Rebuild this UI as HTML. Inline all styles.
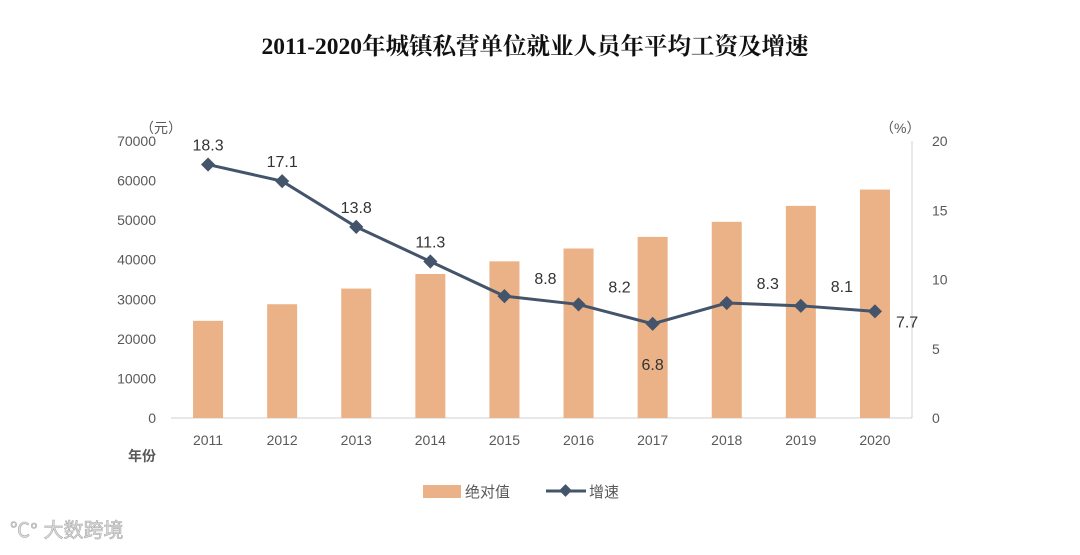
<!DOCTYPE html>
<html><head><meta charset="utf-8"><style>
body{margin:0;background:#fff;width:1080px;height:550px;overflow:hidden;font-family:"Liberation Sans","Noto Sans CJK SC",sans-serif}
</style></head><body>
<svg width="1080" height="550" xmlns="http://www.w3.org/2000/svg">
<text x="535" y="54" text-anchor="middle" font-family="'Liberation Serif','Noto Serif CJK SC',serif" font-weight="bold" font-size="23.5" fill="#111">2011-2020年城镇私营单位就业人员年平均工资及增速</text>
<g id="g" font-size="14" fill="#595959"></g>
</svg>
<script>
const years=['2011','2012','2013','2014','2015','2016','2017','2018','2019','2020'];
const wages=[24556,28752,32706,36390,39589,42833,45761,49575,53604,57727];
const growth=[18.3,17.1,13.8,11.3,8.8,8.2,6.8,8.3,8.1,7.7];
const leftTicks=[0,10000,20000,30000,40000,50000,60000,70000];
const rightTicks=[0,5,10,15,20];
const NS='http://www.w3.org/2000/svg';
const g=document.getElementById('g');
const x0=171,x1=912,yb=418,yt=141;
const step=(x1-x0)/years.length;
const xc=i=>x0+step*(i+0.5);
const yL=v=>yb-(v/70000)*(yb-yt);
const yR=v=>yb-(v/20)*(yb-yt);
function el(t,a,txt){const e=document.createElementNS(NS,t);for(const k in a)e.setAttribute(k,a[k]);if(txt!==undefined)e.textContent=txt;g.appendChild(e);return e;}
let e;
e=el('line',{x1:x0,x2:x1,y1:yb,y2:yb,stroke:'#d0d0d0'});

e=el('line',{x1:x1,x2:x1,y1:yt,y2:yb,stroke:'#d0d0d0'});

leftTicks.forEach(v=>{e=el('text',{x:156,y:yL(v)+5,'text-anchor':'end'},v);
});
rightTicks.forEach(v=>{e=el('text',{x:932,y:yR(v)+5,'text-anchor':'start'},v);
});
e=el('text',{x:140,y:133},'（元）');
e=el('text',{x:880,y:133},'（%）');
e=el('text',{x:128,y:461,'font-weight':'bold'},'年份');
years.forEach((y,i)=>{
 e=el('rect',{x:xc(i)-15,y:yL(wages[i]),width:30,height:yb-yL(wages[i]),fill:'#ebb287'});
 
 e=el('text',{x:xc(i),y:445,'text-anchor':'middle'},y);
 
});
e=el('polyline',{points:growth.map((v,i)=>xc(i)+','+yR(v)).join(' '),fill:'none',stroke:'#44546a','stroke-width':3});

growth.forEach((v,i)=>{
 e=el('rect',{x:xc(i)-5,y:yR(v)-5,width:10,height:10,fill:'#44546a',transform:`rotate(45 ${xc(i)} ${yR(v)})`});
 
 let lx=xc(i),ly=yR(v)-14,anc='middle';
 if(i===6){ly=yR(v)+46;}
 if(i===9){lx=xc(i)+21;ly=yR(v)+16;anc='start';}
 if(i===4||i===5){lx=xc(i)+41;ly=yR(v)-12;}
 if(i===7||i===8){lx=xc(i)+41;ly=yR(v)-14;}
 e=el('text',{x:lx,y:ly,'text-anchor':anc,'font-size':16,fill:'#333'},v.toFixed(1));
 
});
e=el('rect',{x:423,y:485,width:38,height:13,fill:'#ebb287'});

e=el('text',{x:465,y:497,'font-size':15},'绝对值');
e=el('line',{x1:546,x2:586,y1:491,y2:491,stroke:'#44546a','stroke-width':3});

e=el('rect',{x:561,y:486,width:9,height:9,fill:'#44546a',transform:'rotate(45 565.5 490.5)'});

e=el('text',{x:589,y:497,'font-size':15},'增速');
e=el('text',{x:10,y:537,'font-size':20,fill:'#ddd',stroke:'#aaa','stroke-width':0.6},'℃° 大数跨境');

</script>
</body></html>
